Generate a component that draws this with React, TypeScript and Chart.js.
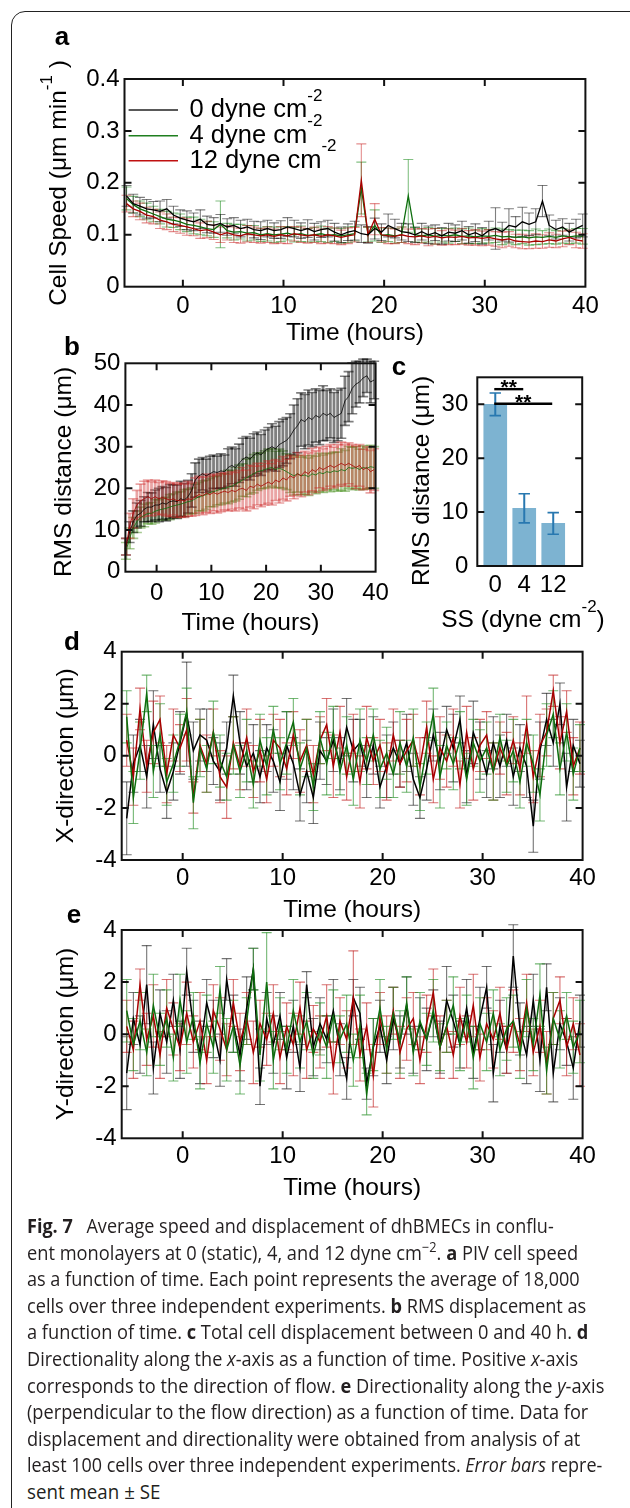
import React, { useEffect, useLayoutEffect, useRef } from 'react';
import { Chart, registerables } from 'chart.js';

Chart.register(...registerables);

const FONT = '"Liberation Sans", Arial, Helvetica, sans-serif';
const CAPTION_FONT = '"Open Sans", "Noto Sans", sans-serif';
Chart.defaults.font.family = FONT;

// ---------- sampling grid (hours) ----------
const T_START = -5.6;
const T_STEP = 2 / 3;

// ---------- shared tick labels ----------
const TIME_TICKS = [0, 10, 20, 30, 40];
const TIME_TICK_LABELS = ['0', '10', '20', '30', '40'];
const A_Y_TICKS = [0, 0.1, 0.2, 0.3, 0.4];
const A_Y_LABELS = ['0', '0.1', '0.2', '0.3', '0.4'];
const B_Y_TICKS = [0, 10, 20, 30, 40, 50];
const B_Y_LABELS = ['0', '10', '20', '30', '40', '50'];
const C_Y_TICKS = [0, 10, 20, 30];
const C_Y_LABELS = ['0', '10', '20', '30'];
const DE_Y_TICKS = [-4, -2, 0, 2, 4];
const DE_Y_LABELS = ['-4', '-2', '0', '2', '4'];
const LEGEND_LABELS = ['0 dyne cm', '4 dyne cm', '12 dyne cm'];

// ---------- panel a: cell speed (um/min) ----------
const A_BLACK = [
  0.175, 0.160, 0.155, 0.150, 0.148, 0.145, 0.150, 0.138, 0.132, 0.128,
  0.125, 0.130, 0.120, 0.118, 0.122, 0.115, 0.118, 0.112, 0.115, 0.110,
  0.108, 0.112, 0.108, 0.110, 0.115, 0.112, 0.108, 0.112, 0.106, 0.110,
  0.112, 0.105, 0.100, 0.105, 0.108, 0.102, 0.100, 0.112, 0.105, 0.118,
  0.112, 0.106, 0.104, 0.100, 0.106, 0.100, 0.104, 0.098, 0.105, 0.103,
  0.108, 0.100, 0.104, 0.098, 0.108, 0.112, 0.106, 0.118, 0.115, 0.125,
  0.120, 0.125, 0.165, 0.118, 0.110, 0.115, 0.105, 0.112, 0.118,
];
const A_BLACK_ERR = [
  0.020, 0.018, 0.017, 0.018, 0.016, 0.020, 0.018, 0.017, 0.016, 0.018,
  0.017, 0.018, 0.016, 0.015, 0.017, 0.016, 0.015, 0.016, 0.015, 0.016,
  0.017, 0.016, 0.015, 0.017, 0.018, 0.016, 0.015, 0.017, 0.016, 0.015,
  0.016, 0.017, 0.015, 0.016, 0.018, 0.017, 0.016, 0.020, 0.016, 0.022,
  0.018, 0.016, 0.017, 0.015, 0.016, 0.017, 0.015, 0.016, 0.017, 0.016,
  0.018, 0.016, 0.017, 0.016, 0.018, 0.040, 0.018, 0.032, 0.020, 0.028,
  0.022, 0.025, 0.030, 0.020, 0.018, 0.016, 0.017, 0.018, 0.022,
];
const A_GREEN = [
  0.170, 0.158, 0.150, 0.145, 0.140, 0.135, 0.130, 0.128, 0.125, 0.120,
  0.118, 0.115, 0.112, 0.110, 0.120, 0.108, 0.105, 0.106, 0.103, 0.104,
  0.100, 0.102, 0.100, 0.101, 0.103, 0.100, 0.102, 0.099, 0.100, 0.102,
  0.099, 0.100, 0.098, 0.100, 0.102, 0.190, 0.100, 0.118, 0.099, 0.100,
  0.098, 0.100, 0.175, 0.100, 0.098, 0.100, 0.097, 0.099, 0.098, 0.100,
  0.097, 0.098, 0.096, 0.098, 0.097, 0.099, 0.096, 0.097, 0.095, 0.096,
  0.094, 0.096, 0.095, 0.097, 0.095, 0.098, 0.096, 0.098, 0.097,
];
const A_GREEN_ERR = [
  0.022, 0.016, 0.015, 0.016, 0.015, 0.014, 0.015, 0.014, 0.015, 0.014,
  0.016, 0.015, 0.014, 0.015, 0.045, 0.014, 0.015, 0.014, 0.015, 0.014,
  0.013, 0.014, 0.015, 0.014, 0.013, 0.014, 0.015, 0.013, 0.014, 0.015,
  0.014, 0.013, 0.014, 0.015, 0.014, 0.050, 0.014, 0.030, 0.014, 0.013,
  0.014, 0.015, 0.070, 0.014, 0.013, 0.014, 0.015, 0.013, 0.014, 0.013,
  0.014, 0.015, 0.013, 0.014, 0.013, 0.014, 0.015, 0.013, 0.014, 0.013,
  0.014, 0.015, 0.013, 0.014, 0.013, 0.014, 0.013, 0.014, 0.015,
];
const A_RED = [
  0.160, 0.150, 0.145, 0.138, 0.135, 0.128, 0.125, 0.120, 0.118, 0.115,
  0.112, 0.108, 0.110, 0.105, 0.100, 0.104, 0.100, 0.098, 0.102, 0.100,
  0.098, 0.100, 0.097, 0.100, 0.098, 0.102, 0.100, 0.098, 0.100, 0.097,
  0.100, 0.098, 0.095, 0.098, 0.100, 0.205, 0.100, 0.130, 0.100, 0.098,
  0.097, 0.100, 0.097, 0.096, 0.098, 0.095, 0.097, 0.094, 0.096, 0.095,
  0.097, 0.094, 0.095, 0.093, 0.095, 0.092, 0.090, 0.092, 0.088, 0.087,
  0.086, 0.088, 0.087, 0.090, 0.088, 0.092, 0.095, 0.090, 0.088,
];
const A_RED_ERR = [
  0.016, 0.015, 0.016, 0.015, 0.014, 0.016, 0.015, 0.014, 0.015, 0.016,
  0.014, 0.015, 0.016, 0.014, 0.015, 0.014, 0.015, 0.014, 0.016, 0.015,
  0.014, 0.015, 0.014, 0.016, 0.015, 0.014, 0.015, 0.014, 0.015, 0.014,
  0.016, 0.015, 0.014, 0.015, 0.014, 0.070, 0.015, 0.030, 0.014, 0.015,
  0.014, 0.015, 0.014, 0.015, 0.014, 0.016, 0.015, 0.014, 0.015, 0.014,
  0.015, 0.014, 0.015, 0.014, 0.015, 0.014, 0.015, 0.014, 0.013, 0.014,
  0.013, 0.014, 0.013, 0.014, 0.013, 0.015, 0.014, 0.015, 0.014,
];

// ---------- panel b: RMS distance (um) ----------
const B_BLACK = [
  6.0, 9.5, 12.0, 13.5, 14.0, 15.0, 15.5, 15.5, 16.0, 16.0,
  16.5, 16.2, 16.8, 17.0, 16.8, 17.5, 17.2, 18.0, 19.5, 22.0,
  23.0, 23.5, 23.0, 23.5, 24.0, 23.8, 24.2, 24.0, 25.0, 25.5,
  25.0, 26.0, 27.0, 27.5, 27.0, 28.0, 28.5, 28.0, 29.0, 29.5,
  30.0, 29.5, 30.5, 31.0, 31.5, 32.5, 34.0, 35.0, 36.5, 36.0,
  37.0, 36.5, 37.5, 37.0, 38.0, 37.5, 38.0, 37.0, 37.5, 38.0,
  41.0, 42.0, 44.0, 45.0, 45.5, 46.5, 47.0, 45.5, 46.0,
];
const B_BLACK_ERR = [
  2.0, 2.5, 2.6, 3.0, 3.1, 3.0, 3.5, 3.4, 3.6, 4.0,
  3.9, 4.0, 4.1, 3.9, 4.0, 4.2, 4.0, 3.9, 4.0, 4.1,
  4.0, 3.9, 4.0, 4.2, 4.0, 3.9, 4.1, 4.0, 4.5, 4.4,
  4.5, 4.6, 5.0, 4.9, 5.0, 5.1, 5.0, 4.9, 5.0, 5.1,
  5.5, 5.4, 5.5, 5.6, 5.5, 5.4, 6.0, 6.5, 6.4, 6.5,
  6.6, 6.5, 6.4, 6.5, 6.6, 6.0, 5.9, 6.0, 6.1, 6.0,
  5.9, 6.0, 6.1, 5.5, 5.0, 4.5, 4.0, 5.0, 4.5,
];
const B_GREEN = [
  5.0, 8.0, 10.5, 12.0, 13.0, 13.5, 14.0, 14.0, 14.5, 14.8,
  15.0, 15.2, 15.5, 15.8, 16.0, 16.2, 16.5, 16.8, 17.0, 17.5,
  18.0, 18.2, 18.5, 19.0, 19.2, 19.5, 19.8, 20.0, 20.3, 20.5,
  21.0, 21.5, 22.0, 22.5, 23.0, 23.5, 24.0, 24.2, 24.5, 24.8,
  25.0, 24.5, 24.8, 24.5, 24.0, 23.5, 23.0, 23.5, 23.0, 23.2,
  22.8, 23.5, 23.2, 23.8, 23.5, 24.0, 23.8, 24.2, 24.0, 24.5,
  24.2, 25.0, 24.8, 25.0, 24.5, 25.0, 24.8, 25.2, 25.0,
];
const B_GREEN_ERR = [
  2.0, 2.5, 2.5, 2.6, 2.5, 2.7, 2.5, 2.6, 2.8, 2.5,
  2.6, 2.7, 3.0, 2.9, 3.1, 3.0, 3.2, 3.0, 3.1, 3.5,
  3.4, 3.6, 3.5, 3.4, 3.6, 3.5, 3.7, 3.5, 4.0, 3.8,
  4.0, 4.1, 3.9, 4.5, 4.4, 4.6, 4.5, 4.3, 4.5, 4.6,
  4.5, 4.4, 4.6, 4.5, 4.3, 4.5, 4.6, 4.4, 4.5, 4.6,
  4.5, 4.4, 4.5, 4.6, 4.5, 4.4, 4.6, 4.5, 4.7, 5.0,
  4.9, 5.0, 5.1, 5.0, 4.9, 5.2, 5.0, 5.1, 5.0,
];
const B_RED = [
  6.0, 11.0, 14.0, 16.0, 17.0, 17.5, 18.0, 17.5, 18.0, 17.5,
  17.8, 17.5, 17.2, 17.5, 17.0, 17.2, 17.0, 17.5, 17.3, 18.0,
  18.5, 18.2, 18.8, 18.5, 19.0, 18.6, 19.0, 19.3, 19.0, 19.5,
  19.2, 19.8, 20.0, 19.5, 20.5, 20.2, 21.0, 20.5, 21.0, 21.5,
  21.0, 22.0, 21.5, 22.5, 22.0, 23.0, 22.5, 23.5, 23.0, 24.0,
  23.5, 24.5, 24.0, 25.0, 24.5, 25.0, 25.5, 25.0, 25.5, 26.0,
  25.5, 26.0, 25.5, 25.0, 25.5, 24.5, 25.0, 24.0, 24.5,
];
const B_RED_ERR = [
  2.0, 3.0, 3.5, 3.5, 4.0, 4.2, 4.0, 4.1, 4.0, 3.9,
  4.0, 4.1, 4.0, 3.9, 4.0, 4.1, 4.0, 4.2, 4.0, 4.5,
  4.4, 4.5, 4.6, 4.5, 4.4, 4.5, 4.6, 4.5, 4.4, 4.5,
  4.6, 4.5, 5.0, 4.9, 5.0, 5.1, 5.0, 4.9, 5.0, 5.1,
  5.0, 4.9, 5.0, 5.1, 5.0, 4.9, 5.0, 5.1, 5.0, 4.9,
  5.0, 5.1, 5.0, 4.9, 5.0, 5.1, 5.0, 4.9, 5.0, 5.1,
  5.0, 4.9, 5.0, 5.1, 5.0, 4.9, 5.0, 5.1, 5.0,
];

// ---------- panel c: total RMS distance ----------
const C_CATEGORIES = ['0', '4', '12'];
const C_VALUES = [30.0, 10.7, 7.9];
const C_ERR = [2.1, 2.7, 2.0];
const SIG_FROM = [0, 0];
const SIG_TO = [1, 2];
const SIG_LEVEL = [32.8, 30.1];
const SIG_LABEL = ['**', '**'];

// ---------- panel d: X-direction (um) ----------
const D_BLACK = [
  -2.4, -0.3, 0.4, -0.8, 1.2, -0.5, -1.4, -0.6, 0.5, 1.6,
  0.2, 0.8, 0.6, -0.2, -0.6, 0.3, 2.3, 0.5, -0.4, 0.1,
  -0.8, 0.3, -0.2, -1.0, 0.4, -0.3, -1.5, -0.6, -1.6, 0.2,
  -0.2, 0.6, -0.3, 1.1, 0.2, 0.5, -0.6, 0.4, -1.2, -0.4,
  0.3, -0.3, 0.5, -0.9, -1.6, -0.5, 0.8, -0.2, 1.0, 0.3,
  1.4, -0.8, 0.9, 0.2, -0.7, 0.5, -0.4, 0.6, -0.8, 0.3,
  -0.4, -2.7, 0.2, 1.4, 0.5, 2.0, -1.2, 0.4, -0.3,
];
const D_BLACK_ERR = [
  1.4, 1.1, 1.0, 1.2, 1.3, 0.9, 1.0, 1.1, 1.2, 2.0,
  1.1, 1.0, 1.2, 0.9, 1.1, 1.0, 0.8, 1.2, 0.9, 1.1,
  1.0, 0.9, 1.2, 1.1, 1.3, 1.0, 1.0, 1.2, 1.0, 1.1,
  0.9, 1.2, 1.0, 1.1, 1.2, 0.9, 1.0, 1.1, 0.8, 1.2,
  1.0, 0.9, 1.1, 1.0, 0.8, 1.2, 1.0, 1.1, 0.9, 1.3,
  0.9, 1.0, 1.2, 1.1, 0.9, 1.0, 1.2, 1.0, 1.1, 0.9,
  1.2, 1.0, 1.1, 1.0, 0.9, 0.8, 1.3, 1.0, 0.9,
];
const D_RED = [
  0.6, -0.8, 1.8, -0.4, 0.9, 1.4, -0.7, 0.8, 0.3, 1.0,
  -1.6, 0.4, -0.3, 0.9, -0.8, -1.2, 0.5, -0.4, 0.7, -0.6,
  0.2, -0.9, 0.6, 0.3, -0.5, 0.8, -0.2, 0.4, -0.7, 0.6,
  1.2, -0.4, 0.9, -0.8, 0.5, -1.0, 0.7, -0.2, 0.4, -0.6,
  0.8, -0.3, 0.2, 0.6, -0.4, 1.1, -0.9, 0.3, -0.2, 0.7,
  -1.1, 0.9, -0.5, 0.4, 0.8, -0.6, 0.3, -0.3, 0.6, -0.5,
  1.2, -0.8, 0.4, 0.9, 2.5, 0.5, 1.7, -0.4, 0.3,
];
const D_RED_ERR = [
  1.0, 1.1, 0.8, 1.0, 1.2, 0.9, 1.1, 1.0, 0.9, 1.2,
  0.6, 1.0, 1.1, 0.9, 1.0, 1.2, 1.0, 0.9, 1.1, 1.0,
  1.2, 0.9, 1.0, 1.1, 1.0, 0.9, 1.2, 1.0, 1.1, 0.9,
  1.0, 1.2, 1.0, 0.9, 1.1, 1.0, 1.2, 0.9, 1.0, 1.1,
  1.0, 0.9, 1.2, 1.0, 1.1, 1.0, 0.9, 1.2, 1.0, 1.1,
  0.9, 1.0, 1.2, 1.0, 0.9, 1.1, 1.0, 1.2, 0.9, 1.0,
  1.1, 1.0, 1.2, 0.9, 0.6, 1.0, 0.8, 1.1, 1.0,
];
const D_GREEN = [
  1.5, -1.6, 0.2, 2.4, -0.6, 0.8, -1.0, -0.3, 0.6, 1.7,
  -1.8, 0.3, -0.5, 0.9, -0.2, -0.8, 0.4, -0.6, 0.2, -1.1,
  0.6, -0.4, 1.0, -0.3, 0.5, 1.3, -0.5, 0.3, -1.2, 0.7,
  -0.3, 0.9, -0.6, 0.4, -0.9, 0.6, -0.2, 0.8, -0.5, 0.1,
  -0.7, 0.5, -0.4, 0.7, -1.2, 0.3, 1.6, -0.8, 0.4, -0.3,
  0.6, -0.9, 0.5, -0.2, 0.3, -0.6, 0.7, -0.4, 0.2, -1.0,
  0.5, -0.3, -1.5, 0.8, 1.6, -0.5, 0.9, -0.7, 0.3,
];
const D_GREEN_ERR = [
  1.0, 1.0, 1.1, 0.7, 1.0, 1.2, 0.9, 1.1, 1.0, 0.9,
  1.0, 1.1, 0.9, 1.2, 1.0, 0.9, 1.1, 1.0, 1.2, 0.9,
  1.0, 1.1, 0.9, 1.0, 1.2, 0.9, 1.0, 1.1, 0.9, 1.0,
  1.2, 1.0, 0.9, 1.1, 1.0, 1.2, 0.9, 1.0, 1.1, 1.0,
  0.9, 1.2, 1.0, 1.1, 0.9, 1.0, 1.0, 1.2, 0.9, 1.0,
  1.1, 1.0, 0.9, 1.2, 1.0, 1.1, 0.9, 1.0, 1.2, 1.0,
  0.9, 1.1, 1.0, 1.2, 0.9, 1.0, 1.1, 1.0, 0.9,
];

// ---------- panel e: Y-direction (um) ----------
const E_BLACK = [
  -1.5, 0.6, -0.4, 1.9, -1.3, 0.8, -0.3, 1.3, -0.6, 2.4,
  0.3, -0.7, 1.2, 0.2, -1.0, 2.1, 0.4, -0.8, 1.0, 2.5,
  -2.0, 0.6, -0.4, 0.7, -0.9, 0.3, -1.3, 1.9, -0.5, 0.4,
  -0.2, 0.9, -0.6, -1.7, 1.4, 0.8, -1.9, -0.5, 0.3, -1.0,
  0.6, -0.3, 1.1, -0.6, 0.4, -0.2, 0.8, -0.5, 1.3, 0.5,
  -0.4, 1.0, -0.7, 0.6, 1.8, -1.5, 0.3, -0.6, 3.0, 0.2,
  -0.8, 1.3, -1.0, 1.8, -1.5, 0.4, -0.3, -1.3, 0.5,
];
const E_BLACK_ERR = [
  1.4, 1.0, 1.1, 1.5, 1.0, 0.9, 1.2, 1.0, 1.1, 0.9,
  1.0, 1.2, 0.9, 1.1, 1.0, 0.8, 1.1, 1.0, 1.2, 0.8,
  0.7, 1.0, 1.1, 0.9, 1.2, 1.0, 0.9, 0.5, 1.1, 1.0,
  0.9, 1.2, 1.0, 0.8, 0.7, 1.0, 0.6, 1.1, 1.0, 0.9,
  1.2, 1.0, 1.1, 0.9, 1.0, 1.2, 0.9, 1.0, 1.3, 1.0,
  0.9, 1.1, 1.0, 1.2, 0.8, 1.1, 1.0, 0.9, 1.2, 1.0,
  1.1, 1.0, 1.2, 0.9, 1.1, 1.0, 0.9, 1.2, 1.0,
];
const E_RED = [
  0.3, -0.6, 1.9, -0.2, 0.7, -0.8, 1.0, 0.2, -0.5, 0.8,
  -0.3, 0.5, -1.0, 0.9, 0.2, -0.6, 1.2, -0.3, 0.6, -0.7,
  0.4, -0.2, 0.8, -0.9, 0.3, -0.4, 1.0, -0.6, 0.2, -0.3,
  0.7, -1.3, 0.5, -0.2, 1.4, -0.8, 0.3, -1.6, 0.6, -0.4,
  0.9, -0.7, 0.2, 0.6, -1.0, 0.4, 1.6, -0.5, 0.3, -0.8,
  0.7, -0.3, 1.1, -0.9, 0.4, -0.2, 0.8, -0.6, 0.5, -0.4,
  1.2, -0.7, 0.3, -1.1, 0.6, 1.3, -0.5, 0.4, -0.8,
];
const E_RED_ERR = [
  1.0, 1.1, 0.6, 1.0, 1.2, 0.9, 1.1, 1.0, 0.9, 1.2,
  1.0, 1.1, 0.9, 1.0, 1.2, 1.0, 0.9, 1.1, 1.0, 1.2,
  0.9, 1.0, 1.1, 1.0, 0.9, 1.2, 1.0, 1.1, 0.9, 1.0,
  1.2, 1.0, 0.9, 1.1, 1.8, 1.0, 0.9, 1.2, 1.0, 1.1,
  0.9, 1.0, 1.2, 1.0, 0.9, 1.1, 0.9, 1.2, 1.0, 0.9,
  1.1, 1.0, 1.2, 0.9, 1.0, 1.1, 1.0, 0.9, 1.2, 1.0,
  1.1, 0.9, 1.0, 1.2, 1.0, 0.9, 1.1, 1.0, 1.2,
];
const E_GREEN = [
  0.9, -0.4, 0.5, -0.7, 1.1, -0.2, 0.6, -0.9, 1.3, -0.3,
  0.7, -1.1, 0.4, -0.5, 1.7, -0.6, 0.3, -1.2, 0.5, 2.5,
  -0.8, 2.0, -1.0, 0.4, -0.6, 0.9, -0.3, 0.5, -0.8, 0.2,
  -0.5, 0.7, -0.2, 0.4, -1.0, 0.3, -2.3, -0.4, 1.0, -0.6,
  0.8, -0.3, 1.2, -0.7, 0.5, -0.2, 0.9, -0.5, 0.3, 1.1,
  -0.4, 0.6, -0.9, 0.4, -0.3, 0.8, -0.6, 0.2, 0.5, -0.8,
  1.0, -0.4, 1.5, -1.4, 0.6, -0.2, 0.7, -0.5, 0.1,
];
const E_GREEN_ERR = [
  1.2, 1.0, 1.1, 0.9, 1.2, 1.0, 1.1, 0.9, 1.0, 1.2,
  0.9, 1.0, 1.1, 1.0, 0.9, 1.2, 1.0, 1.1, 0.9, 0.8,
  1.0, 1.9, 1.1, 1.0, 0.9, 1.2, 1.0, 1.1, 0.9, 1.0,
  1.2, 1.0, 0.9, 1.1, 1.0, 1.2, 0.8, 1.0, 1.1, 0.9,
  1.0, 1.2, 1.0, 0.9, 1.1, 1.0, 1.2, 0.9, 1.0, 1.1,
  1.0, 0.9, 1.2, 1.0, 1.1, 0.9, 1.0, 1.2, 1.0, 0.9,
  1.1, 1.0, 1.2, 0.9, 1.0, 1.1, 0.9, 1.0, 1.2,
];

// ---------- colours ----------
const COL_BLACK = '#000000';
const COL_GREEN = '#0e6e0e';
const COL_RED = '#a80000';
const LEGEND_COLORS = ['#222222', '#1f7f1f', '#c01010'];
const BAR_COLOR = '#7db3d1';
const BAR_ERR_COLOR = '#2878b0';

// ---------- helpers ----------
type Part = { t: string; size: number; bold?: boolean; dy?: number };
type TextItem = {
  x: number; y: number; parts: Part[];
  align?: 'left' | 'center' | 'right'; rot?: boolean; baseline?: CanvasTextBaseline;
};
type Decor = {
  offX: number; offY: number;
  xTicks: number[]; yTicks: number[];
  texts: TextItem[];
  errPhase: 'before' | 'after';
  capHalf: number; errWidth: number;
  legend?: boolean; sig?: boolean;
};

const TICK_LEN = 7;

function drawText(ctx: CanvasRenderingContext2D, item: TextItem, offX: number, offY: number) {
  ctx.save();
  ctx.translate(item.x - offX, item.y - offY);
  if (item.rot) ctx.rotate(-Math.PI / 2);
  ctx.fillStyle = '#000';
  ctx.textBaseline = item.baseline || 'middle';
  ctx.textAlign = 'left';
  const fonts = item.parts.map((p) => `${p.bold ? 'bold ' : ''}${p.size}px ${FONT}`);
  const widths = item.parts.map((p, i) => {
    ctx.font = fonts[i];
    return ctx.measureText(p.t).width;
  });
  const total = widths.reduce((a, b) => a + b, 0);
  let x = item.align === 'left' ? 0 : item.align === 'right' ? -total : -total / 2;
  item.parts.forEach((p, i) => {
    ctx.font = fonts[i];
    ctx.fillText(p.t, x, p.dy || 0);
    x += widths[i];
  });
  ctx.restore();
}

function drawErrors(chart: any, capHalf: number, lw: number) {
  const ctx: CanvasRenderingContext2D = chart.ctx;
  const xs = chart.scales.x;
  const ys = chart.scales.y;
  const sets = chart.data.datasets
    .slice()
    .sort((a: any, b: any) => (b.order ?? 0) - (a.order ?? 0));
  for (const d of sets) {
    const errs: number[] | undefined = d.errors;
    if (!errs) continue;
    ctx.save();
    ctx.strokeStyle = d.errColor;
    d.data.forEach((p: any, k: number) => {
      const e = errs[k];
      if (e == null) return;
      const px = xs.getPixelForValue(p.x);
      const y1 = ys.getPixelForValue(p.y + e);
      const y2 = ys.getPixelForValue(p.y - e);
      ctx.lineWidth = lw;
      ctx.beginPath();
      ctx.moveTo(px, y1);
      ctx.lineTo(px, y2);
      ctx.stroke();
      ctx.lineWidth = Math.min(lw, 1.6);
      ctx.beginPath();
      ctx.moveTo(px - capHalf, y1);
      ctx.lineTo(px + capHalf, y1);
      ctx.moveTo(px - capHalf, y2);
      ctx.lineTo(px + capHalf, y2);
      ctx.stroke();
    });
    ctx.restore();
  }
}

function drawFrame(chart: any, xTicks: number[], yTicks: number[]) {
  const ctx: CanvasRenderingContext2D = chart.ctx;
  const { left, right, top, bottom } = chart.chartArea;
  const xs = chart.scales.x;
  const ys = chart.scales.y;
  ctx.save();
  ctx.strokeStyle = '#111';
  ctx.lineWidth = 2;
  ctx.strokeRect(left, top, right - left, bottom - top);
  ctx.beginPath();
  xTicks.forEach((v) => {
    const p = xs.getPixelForValue(v);
    if (p <= left + 2 || p >= right - 2) return;
    ctx.moveTo(p, bottom);
    ctx.lineTo(p, bottom - TICK_LEN);
    ctx.moveTo(p, top);
    ctx.lineTo(p, top + TICK_LEN);
  });
  yTicks.forEach((v) => {
    const p = ys.getPixelForValue(v);
    if (p <= top + 2 || p >= bottom - 2) return;
    ctx.moveTo(left, p);
    ctx.lineTo(left + TICK_LEN, p);
    ctx.moveTo(right, p);
    ctx.lineTo(right - TICK_LEN, p);
  });
  ctx.stroke();
  ctx.restore();
}

const LEGEND_Y = [110, 135.7, 160.7];

function drawLegend(chart: any, dec: Decor) {
  const ctx: CanvasRenderingContext2D = chart.ctx;
  LEGEND_LABELS.forEach((lab, k) => {
    const y = LEGEND_Y[k] - dec.offY;
    ctx.save();
    ctx.strokeStyle = LEGEND_COLORS[k];
    ctx.lineWidth = 1.6;
    ctx.beginPath();
    ctx.moveTo(128.6 - dec.offX, y);
    ctx.lineTo(178 - dec.offX, y);
    ctx.stroke();
    ctx.restore();
    drawText(ctx, {
      x: 189.6, y: LEGEND_Y[k], align: 'left',
      parts: [{ t: lab, size: 25.5 }, { t: '-2', size: 17, dy: -14 }],
    }, dec.offX, dec.offY);
  });
}

function drawSig(chart: any) {
  const ctx: CanvasRenderingContext2D = chart.ctx;
  const xs = chart.scales.x;
  const ys = chart.scales.y;
  SIG_FROM.forEach((f, k) => {
    const x1 = xs.getPixelForValue(f + 1) - 1;
    const x2 = xs.getPixelForValue(SIG_TO[k] + 1) - 1;
    const y = ys.getPixelForValue(SIG_LEVEL[k]);
    ctx.save();
    ctx.strokeStyle = '#000';
    ctx.lineWidth = 2.4;
    ctx.beginPath();
    ctx.moveTo(x1, y);
    ctx.lineTo(x2, y);
    ctx.stroke();
    ctx.fillStyle = '#000';
    ctx.font = `bold 21px ${FONT}`;
    ctx.textAlign = 'center';
    ctx.textBaseline = 'alphabetic';
    ctx.fillText(SIG_LABEL[k], (x1 + x2) / 2, y + 5);
    ctx.restore();
  });
}

function decorPlugin(dec: Decor) {
  return {
    id: 'decor',
    beforeDatasetsDraw(chart: any) {
      if (dec.errPhase === 'before') drawErrors(chart, dec.capHalf, dec.errWidth);
    },
    afterDatasetsDraw(chart: any) {
      if (dec.errPhase === 'after') drawErrors(chart, dec.capHalf, dec.errWidth);
      drawFrame(chart, dec.xTicks, dec.yTicks);
      if (dec.sig) drawSig(chart);
      if (dec.legend) drawLegend(chart, dec);
      dec.texts.forEach((t) => drawText(chart.ctx, t, dec.offX, dec.offY));
    },
  };
}

// size = width (y axis) or height (x axis) reserved for the tick labels
function axis(kind: 'x' | 'y', min: number, max: number, values: number[], labels: string[], pad: number, size: number) {
  return {
    type: 'linear',
    min,
    max,
    offset: false,
    grid: { display: false, drawTicks: false },
    border: { display: false },
    ticks: {
      autoSkip: false,
      maxRotation: 0,
      minRotation: 0,
      padding: pad,
      color: '#000',
      font: { family: FONT, size: 24, lineHeight: 1 },
      callback: (_v: any, i: number) => labels[i] ?? '',
    },
    afterBuildTicks: (s: any) => {
      s.ticks = values.map((v) => ({ value: v }));
    },
    afterFit: (s: any) => {
      if (kind === 'x') s.height = size;
      else s.width = size;
    },
  };
}

function series(values: number[], errors: number[], color: string, errColor: string, order: number, width: number) {
  return {
    type: 'line',
    data: values.map((v, i) => ({ x: T_START + i * T_STEP, y: v })),
    errors,
    errColor,
    borderColor: color,
    backgroundColor: color,
    borderWidth: width,
    pointRadius: 0,
    pointHoverRadius: 0,
    tension: 0,
    fill: false,
    order,
    clip: false,
  };
}

function baseOptions(padding: any, x: any, y: any) {
  return {
    responsive: false,
    maintainAspectRatio: false,
    animation: false,
    events: [],
    layout: { padding, autoPadding: false },
    plugins: { legend: { display: false }, tooltip: { enabled: false } },
    scales: { x, y },
  };
}

// ---------- panel boxes (page coordinates) ----------
const A_BOX = { left: 0, top: 0, width: 630, height: 360 };
const B_BOX = { left: 0, top: 330, width: 400, height: 310 };
const C_BOX = { left: 380, top: 330, width: 250, height: 310 };
const D_BOX = { left: 0, top: 620, width: 630, height: 310 };
const E_BOX = { left: 0, top: 895, width: 630, height: 310 };

// plot rectangle inside a box -> layout padding + axis sizes
function frameFor(box: { left: number; top: number; width: number; height: number }, l: number, t: number, r: number, b: number) {
  const left = l - box.left;
  const top = t - box.top;
  const right = box.left + box.width - r;
  const bottom = box.top + box.height - b;
  return {
    padding: { left: 2, top, right, bottom: 2 },
    yWidth: left - 2,
    xHeight: bottom - 2,
  };
}

function buildA() {
  const f = frameFor(A_BOX, 124.5, 79, 585.4, 286.7);
  const dec: Decor = {
    offX: A_BOX.left, offY: A_BOX.top,
    xTicks: TIME_TICKS, yTicks: A_Y_TICKS,
    errPhase: 'before', capHalf: 5, errWidth: 1.1, legend: true,
    texts: [
      { x: 62, y: 45, baseline: 'alphabetic', parts: [{ t: 'a', size: 26, bold: true }] },
      { x: 59.5, y: 183, rot: true, parts: [{ t: 'Cell Speed (μm min', size: 24.5 }, { t: '-1', size: 17, dy: -12 }, { t: ' )', size: 24.5 }] },
      { x: 355, y: 333, parts: [{ t: 'Time (hours)', size: 24.5 }] },
    ],
  };
  return {
    type: 'line',
    data: {
      datasets: [
        series(A_BLACK, A_BLACK_ERR, COL_BLACK, 'rgba(0,0,0,0.5)', 1, 1.3),
        series(A_RED, A_RED_ERR, COL_RED, 'rgba(200,30,30,0.5)', 2, 1.3),
        series(A_GREEN, A_GREEN_ERR, COL_GREEN, 'rgba(30,140,30,0.55)', 3, 1.3),
      ],
    },
    options: baseOptions(
      f.padding,
      axis('x', -5.8, 40, TIME_TICKS, TIME_TICK_LABELS, 7.6, f.xHeight),
      axis('y', 0, 0.4, A_Y_TICKS, A_Y_LABELS, 5, f.yWidth),
    ),
    plugins: [decorPlugin(dec)],
  };
}

function buildB() {
  const f = frameFor(B_BOX, 125.4, 363.3, 375.6, 571.7);
  const dec: Decor = {
    offX: B_BOX.left, offY: B_BOX.top,
    xTicks: TIME_TICKS, yTicks: B_Y_TICKS,
    errPhase: 'before', capHalf: 5, errWidth: 2.8,
    texts: [
      { x: 72, y: 355, baseline: 'alphabetic', parts: [{ t: 'b', size: 26, bold: true }] },
      { x: 64.3, y: 472, rot: true, parts: [{ t: 'RMS distance (μm)', size: 24.5 }] },
      { x: 250.5, y: 623.3, parts: [{ t: 'Time (hours)', size: 24.5 }] },
    ],
  };
  return {
    type: 'line',
    data: {
      datasets: [
        series(B_RED, B_RED_ERR, COL_RED, 'rgba(205,40,40,0.42)', 1, 0.8),
        series(B_BLACK, B_BLACK_ERR, COL_BLACK, 'rgba(0,0,0,0.5)', 2, 0.8),
        series(B_GREEN, B_GREEN_ERR, COL_GREEN, 'rgba(80,150,40,0.5)', 3, 0.8),
      ],
    },
    options: baseOptions(
      f.padding,
      axis('x', -5.7, 40, TIME_TICKS, TIME_TICK_LABELS, 9.6, f.xHeight),
      axis('y', 0, 50, B_Y_TICKS, B_Y_LABELS, 5, f.yWidth),
    ),
    plugins: [decorPlugin(dec)],
  };
}

function buildC() {
  const f = frameFor(C_BOX, 477.3, 377.3, 582.2, 566);
  const dec: Decor = {
    offX: C_BOX.left, offY: C_BOX.top,
    xTicks: [], yTicks: C_Y_TICKS,
    errPhase: 'after', capHalf: 5.7, errWidth: 2, sig: true,
    texts: [
      { x: 399, y: 375, baseline: 'alphabetic', parts: [{ t: 'c', size: 26, bold: true }] },
      { x: 421.9, y: 481, rot: true, parts: [{ t: 'RMS distance (μm)', size: 24.5 }] },
      { x: 523, y: 620, parts: [{ t: 'SS (dyne cm', size: 24.5 }, { t: '-2', size: 17, dy: -13 }, { t: ')', size: 24.5 }] },
    ],
  };
  return {
    type: 'bar',
    data: {
      datasets: [
        {
          type: 'bar',
          data: C_VALUES.map((v, i) => ({ x: i + 1, y: v })),
          errors: C_ERR,
          errColor: BAR_ERR_COLOR,
          backgroundColor: BAR_COLOR,
          borderWidth: 0,
          barThickness: 23,
        },
      ],
    },
    options: baseOptions(
      f.padding,
      axis('x', 0.38, 4.0, [1, 2, 3], C_CATEGORIES, 7, f.xHeight),
      axis('y', 0, 35, C_Y_TICKS, C_Y_LABELS, 9, f.yWidth),
    ),
    plugins: [decorPlugin(dec)],
  };
}

function buildDir(kind: 'd' | 'e') {
  const isD = kind === 'd';
  const box = isD ? D_BOX : E_BOX;
  const f = isD ? frameFor(D_BOX, 121.7, 651.7, 582.6, 860) : frameFor(E_BOX, 121.7, 930, 582.6, 1138.3);
  const dec: Decor = {
    offX: box.left, offY: box.top,
    xTicks: TIME_TICKS, yTicks: DE_Y_TICKS,
    errPhase: 'before', capHalf: 5, errWidth: 1.1,
    texts: isD
      ? [
          { x: 72, y: 650, baseline: 'alphabetic', parts: [{ t: 'd', size: 26, bold: true }] },
          { x: 66.3, y: 755.8, rot: true, parts: [{ t: 'X-direction (μm)', size: 24.5 }] },
          { x: 352.2, y: 910, parts: [{ t: 'Time (hours)', size: 24.5 }] },
        ]
      : [
          { x: 74, y: 923, baseline: 'alphabetic', parts: [{ t: 'e', size: 26, bold: true }] },
          { x: 66.3, y: 1034, rot: true, parts: [{ t: 'Y-direction (μm)', size: 24.5 }] },
          { x: 352.2, y: 1188.3, parts: [{ t: 'Time (hours)', size: 24.5 }] },
        ],
  };
  const blk = isD ? D_BLACK : E_BLACK;
  const blkE = isD ? D_BLACK_ERR : E_BLACK_ERR;
  const red = isD ? D_RED : E_RED;
  const redE = isD ? D_RED_ERR : E_RED_ERR;
  const grn = isD ? D_GREEN : E_GREEN;
  const grnE = isD ? D_GREEN_ERR : E_GREEN_ERR;
  return {
    type: 'line',
    data: {
      datasets: [
        series(grn, grnE, COL_GREEN, 'rgba(40,145,40,0.65)', 1, 1.5),
        series(red, redE, COL_RED, 'rgba(190,20,20,0.6)', 2, 1.5),
        series(blk, blkE, COL_BLACK, 'rgba(0,0,0,0.55)', 3, 1.5),
      ],
    },
    options: baseOptions(
      f.padding,
      axis('x', -6.1, 40, TIME_TICKS, TIME_TICK_LABELS, isD ? 6.3 : 6.4, f.xHeight),
      axis('y', -4, 4, DE_Y_TICKS, DE_Y_LABELS, 5, f.yWidth),
    ),
    plugins: [decorPlugin(dec)],
  };
}
const buildD = () => buildDir('d');
const buildE = () => buildDir('e');

function ChartPanel({ build, box }: { build: () => any; box: { left: number; top: number; width: number; height: number } }) {
  const ref = useRef<HTMLCanvasElement | null>(null);
  useEffect(() => {
    if (!ref.current) return;
    const chart = new Chart(ref.current, build());
    return () => chart.destroy();
  }, [build]);
  return (
    <canvas
      ref={ref}
      width={box.width}
      height={box.height}
      style={{ position: 'absolute', left: box.left, top: box.top, width: box.width, height: box.height }}
    />
  );
}

// ---------- caption ----------
const CAPTION_TOP = 1213;
const CAPTION_LH = 26.6;
const CAPTION_LEFT = 27.3;
const CAPTION_WIDTHS = [526.7, 551.2, 552.7, 559.3, 561.3, 551.2, 577.4, 561.3, 553.3, 575.3, 133.4];
const SUP = { fontSize: '0.7em', lineHeight: 0, verticalAlign: 'super' } as const;
const CAPTION_LINES = [
  <><b>Fig. 7</b>{'\u2002\u00a0'}Average speed and displacement of dhBMECs in conflu-</>,
  <>ent monolayers at 0 (static), 4, and 12 dyne cm<span style={SUP}>−2</span>. <b>a</b> PIV cell speed</>,
  <>as a function of time. Each point represents the average of 18,000</>,
  <>cells over three independent experiments. <b>b</b> RMS displacement as</>,
  <>a function of time. <b>c</b> Total cell displacement between 0 and 40 h. <b>d</b></>,
  <>Directionality along the <i>x</i>-axis as a function of time. Positive <i>x</i>-axis</>,
  <>corresponds to the direction of flow. <b>e</b> Directionality along the <i>y</i>-axis</>,
  <>(perpendicular to the flow direction) as a function of time. Data for</>,
  <>displacement and directionality were obtained from analysis of at</>,
  <>least 100 cells over three independent experiments. <i>Error bars</i> repre-</>,
  <>sent mean ± SE</>,
];

function Caption() {
  const refs = useRef<(HTMLDivElement | null)[]>([]);
  useLayoutEffect(() => {
    const fit = () => {
      refs.current.forEach((el, i) => {
        if (!el) return;
        el.style.transform = 'none';
        const w = el.getBoundingClientRect().width;
        if (w > 0) el.style.transform = `scaleX(${CAPTION_WIDTHS[i] / w})`;
      });
    };
    fit();
    const fonts = (document as any).fonts;
    if (fonts && fonts.ready) fonts.ready.then(fit);
  }, []);
  return (
    <>
      {CAPTION_LINES.map((content, i) => (
        <div
          key={i}
          ref={(el) => {
            refs.current[i] = el;
          }}
          style={{
            position: 'absolute',
            left: CAPTION_LEFT,
            top: CAPTION_TOP + i * CAPTION_LH,
            whiteSpace: 'nowrap',
            transformOrigin: '0 0',
            fontFamily: CAPTION_FONT,
            fontSize: 20,
            lineHeight: '26px',
            color: '#231f20',
          }}
        >
          {content}
        </div>
      ))}
    </>
  );
}

export default function App() {
  return (
    <div style={{ position: 'absolute', left: 0, top: 0, width: 630, height: 1508, overflow: 'hidden', background: '#fff' }}>
      <div
        style={{
          position: 'absolute', left: 11, top: 11, width: 650, height: 1560,
          border: '1px solid #222', borderRadius: 14, boxSizing: 'border-box',
        }}
      />
      <ChartPanel build={buildA} box={A_BOX} />
      <ChartPanel build={buildB} box={B_BOX} />
      <ChartPanel build={buildC} box={C_BOX} />
      <ChartPanel build={buildD} box={D_BOX} />
      <ChartPanel build={buildE} box={E_BOX} />
      <Caption />
    </div>
  );
}
